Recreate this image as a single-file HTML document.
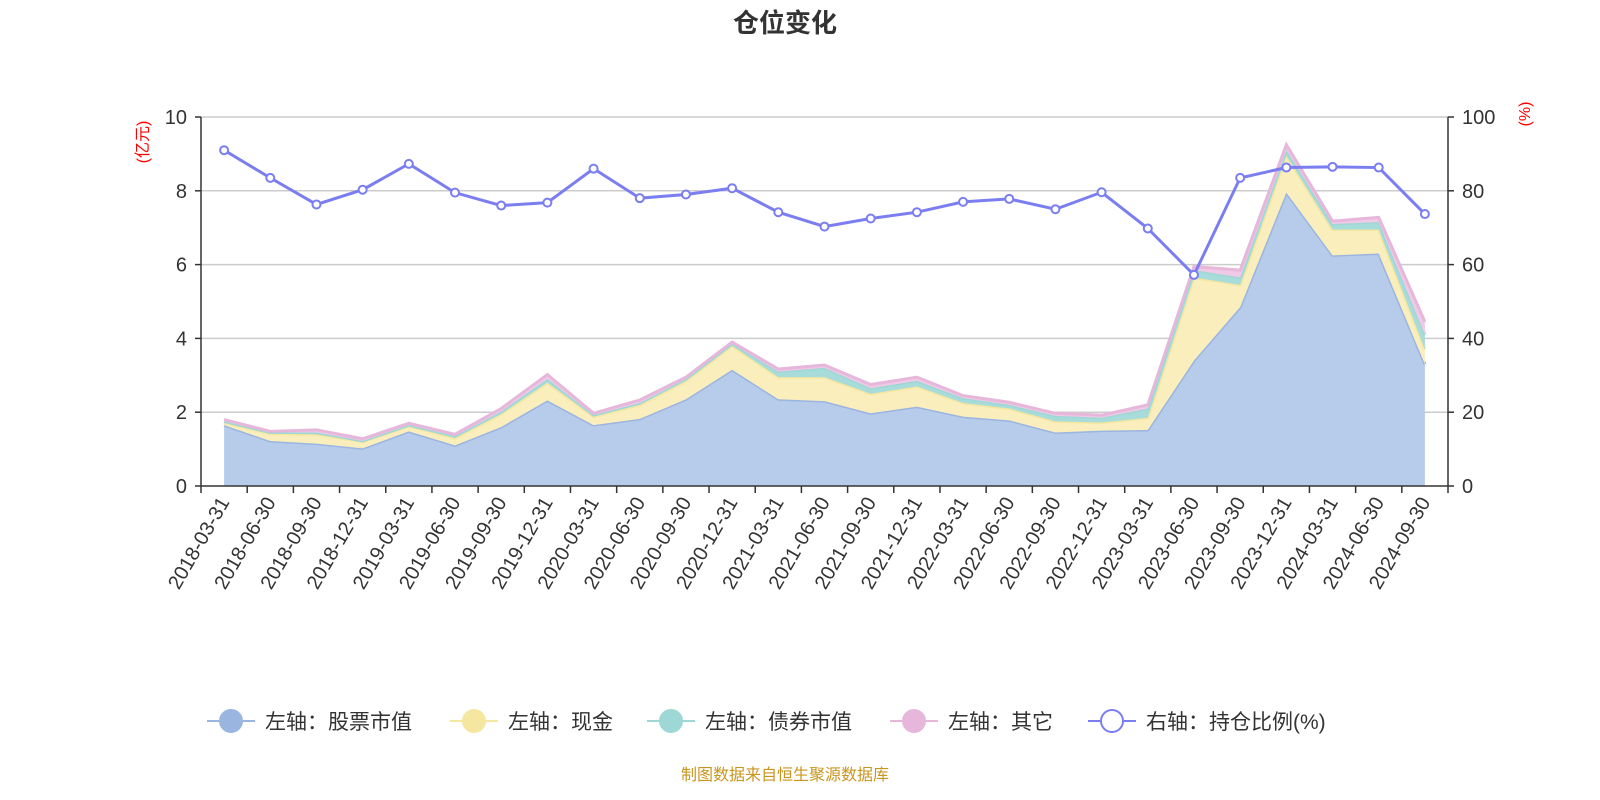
<!DOCTYPE html>
<html><head><meta charset="utf-8"><style>
body{margin:0;background:#fff;}
svg{display:block;font-family:"Liberation Sans","Noto Sans CJK SC",sans-serif;}
</style></head><body>
<svg id="c" width="1600" height="800"></svg>
<script>
const categories=["2018-03-31","2018-06-30","2018-09-30","2018-12-31","2019-03-31","2019-06-30","2019-09-30","2019-12-31","2020-03-31","2020-06-30","2020-09-30","2020-12-31","2021-03-31","2021-06-30","2021-09-30","2021-12-31","2022-03-31","2022-06-30","2022-09-30","2022-12-31","2023-03-31","2023-06-30","2023-09-30","2023-12-31","2024-03-31","2024-06-30","2024-09-30"];
const stockValues=[1.65,1.22,1.15,1.02,1.48,1.10,1.60,2.32,1.65,1.82,2.35,3.15,2.35,2.30,1.97,2.15,1.88,1.78,1.45,1.50,1.52,3.40,4.85,7.95,6.25,6.30,3.30];
const cashValues=[0.07,0.20,0.25,0.18,0.14,0.20,0.35,0.48,0.23,0.38,0.50,0.65,0.60,0.65,0.53,0.55,0.37,0.32,0.30,0.22,0.33,2.25,0.60,1.00,0.70,0.65,0.40];
const bondValues=[0.03,0.03,0.05,0.02,0.03,0.05,0.07,0.10,0.04,0.05,0.05,0.05,0.15,0.25,0.15,0.15,0.13,0.10,0.15,0.13,0.25,0.20,0.20,0.15,0.15,0.20,0.40];
const otherValues=[0.05,0.03,0.07,0.06,0.05,0.05,0.08,0.12,0.05,0.08,0.05,0.05,0.07,0.08,0.10,0.10,0.07,0.07,0.07,0.07,0.10,0.10,0.20,0.15,0.08,0.13,0.35];
const ratioValues=[91,83.5,76.3,80.3,87.3,79.5,76,76.8,86,78,79,80.7,74.2,70.3,72.5,74.2,77,77.8,75,79.6,69.8,57.2,83.5,86.3,86.5,86.3,73.7];
const leftTicks=[0,2,4,6,8,10];
const rightTicks=[0,20,40,60,80,100];

const NS="http://www.w3.org/2000/svg";
const svg=document.getElementById('c');
const L=201,R=1448,T=117,B=486;
const n=categories.length,bw=(R-L)/n;
const xC=i=>L+bw*(i+0.5);
const yL=v=>B-(v/10)*(B-T);
const yR=v=>B-(v/100)*(B-T);
function el(tag,attrs,parent){const e=document.createElementNS(NS,tag);for(const k in attrs)e.setAttribute(k,attrs[k]);(parent||svg).appendChild(e);return e;}
function txt(s,attrs,parent){const e=el('text',attrs,parent);e.textContent=s;return e;}

let t=txt('仓位变化',{x:785,y:32,'text-anchor':'middle','font-size':26,'font-weight':'bold',fill:'#333'});


// grid
leftTicks.forEach((v,i)=>{
  if(v>0){const g=el('line',{x1:L,x2:R,y1:yL(v),y2:yL(v),stroke:'#ccc','stroke-width':1.5});
  }
  const a=txt(String(v),{x:L-14,y:yL(v)+7,'text-anchor':'end','font-size':20,fill:'#333'});
  
  el('line',{x1:L-6,x2:L,y1:yL(v),y2:yL(v),stroke:'#333','stroke-width':1.5});
});
rightTicks.forEach(v=>{
  const a=txt(String(v),{x:R+14,y:yR(v)+7,'text-anchor':'start','font-size':20,fill:'#333'});
  
  el('line',{x1:R,x2:R+6,y1:yR(v),y2:yR(v),stroke:'#333','stroke-width':1.5});
});
t=txt('(亿元)',{x:0,y:0,'font-size':16,fill:'red','text-anchor':'middle',transform:`translate(148,142) rotate(-90)`});

t=txt('(%)',{x:0,y:0,'font-size':16,fill:'red','text-anchor':'middle',transform:`translate(1530,114) rotate(-90)`});


// stacked areas
const series=[
 {vals:stockValues,fill:'#b7cceb',line:'#9ab5e0',name:'stock-area'},
 {vals:cashValues,fill:'#fbeebd',line:'#f5e6a0',name:'cash-area'},
 {vals:bondValues,fill:'#a7dcda',line:'#9ed8d6',name:'bond-area'},
 {vals:otherValues,fill:'#efc9e5',line:'#e6b7da',name:'other-area'}];
let base=new Array(n).fill(0);
series.forEach(s=>{
  const top=base.map((b,i)=>b+s.vals[i]);
  let d='M'+top.map((v,i)=>xC(i)+','+yL(v)).join('L');
  for(let i=n-1;i>=0;i--)d+='L'+xC(i)+','+yL(base[i]);
  const a=el('path',{d:d+'Z',fill:s.fill});
  
  const l=el('path',{d:'M'+top.map((v,i)=>xC(i)+','+yL(v)).join('L'),fill:'none',stroke:s.line,'stroke-width':3});
  
  base=top;
});

// axes
el('line',{x1:L,x2:R,y1:B,y2:B,stroke:'#333','stroke-width':1.5});
el('line',{x1:L,x2:L,y1:T,y2:B,stroke:'#333','stroke-width':1.5});
el('line',{x1:R,x2:R,y1:T,y2:B,stroke:'#333','stroke-width':1.5});
for(let i=0;i<=n;i++)el('line',{x1:L+bw*i,x2:L+bw*i,y1:B,y2:B+7,stroke:'#333','stroke-width':1.5});
categories.forEach((c,i)=>{
  const a=txt(c,{x:0,y:0,'font-size':20,fill:'#333','text-anchor':'end',transform:`translate(${xC(i)+6},${B+16}) rotate(-60)`});
  
});

// ratio line
const rl=el('path',{d:'M'+ratioValues.map((v,i)=>xC(i)+','+yR(v)).join('L'),fill:'none',stroke:'#7b7ef0','stroke-width':3});

ratioValues.forEach((v,i)=>{
  const p=el('circle',{cx:xC(i),cy:yR(v),r:4,fill:'#fff',stroke:'#7b7ef0','stroke-width':2});
  
});

// legend
const leg=[
 ['左轴：股票市值','#9ab5e0',true,207],
 ['左轴：现金','#f5e6a0',true,450],
 ['左轴：债券市值','#9ed8d6',true,647],
 ['左轴：其它','#e6b7da',true,890],
 ['右轴：持仓比例(%)','#7b7ef0',false,1088]];
leg.forEach(([label,col,filled,x])=>{
  const g=el('g',{});
  
  el('line',{x1:x,x2:x+48,y1:721,y2:721,stroke:col,'stroke-width':2},g);
  el('circle',{cx:x+24,cy:721,r:11,fill:filled?col:'#fff',stroke:col,'stroke-width':2},g);
  txt(label,{x:x+58,y:729,'font-size':21,fill:'#333'},g);
});
t=txt('制图数据来自恒生聚源数据库',{x:785,y:780,'text-anchor':'middle','font-size':16,fill:'#c8961e'});

</script>
</body></html>
